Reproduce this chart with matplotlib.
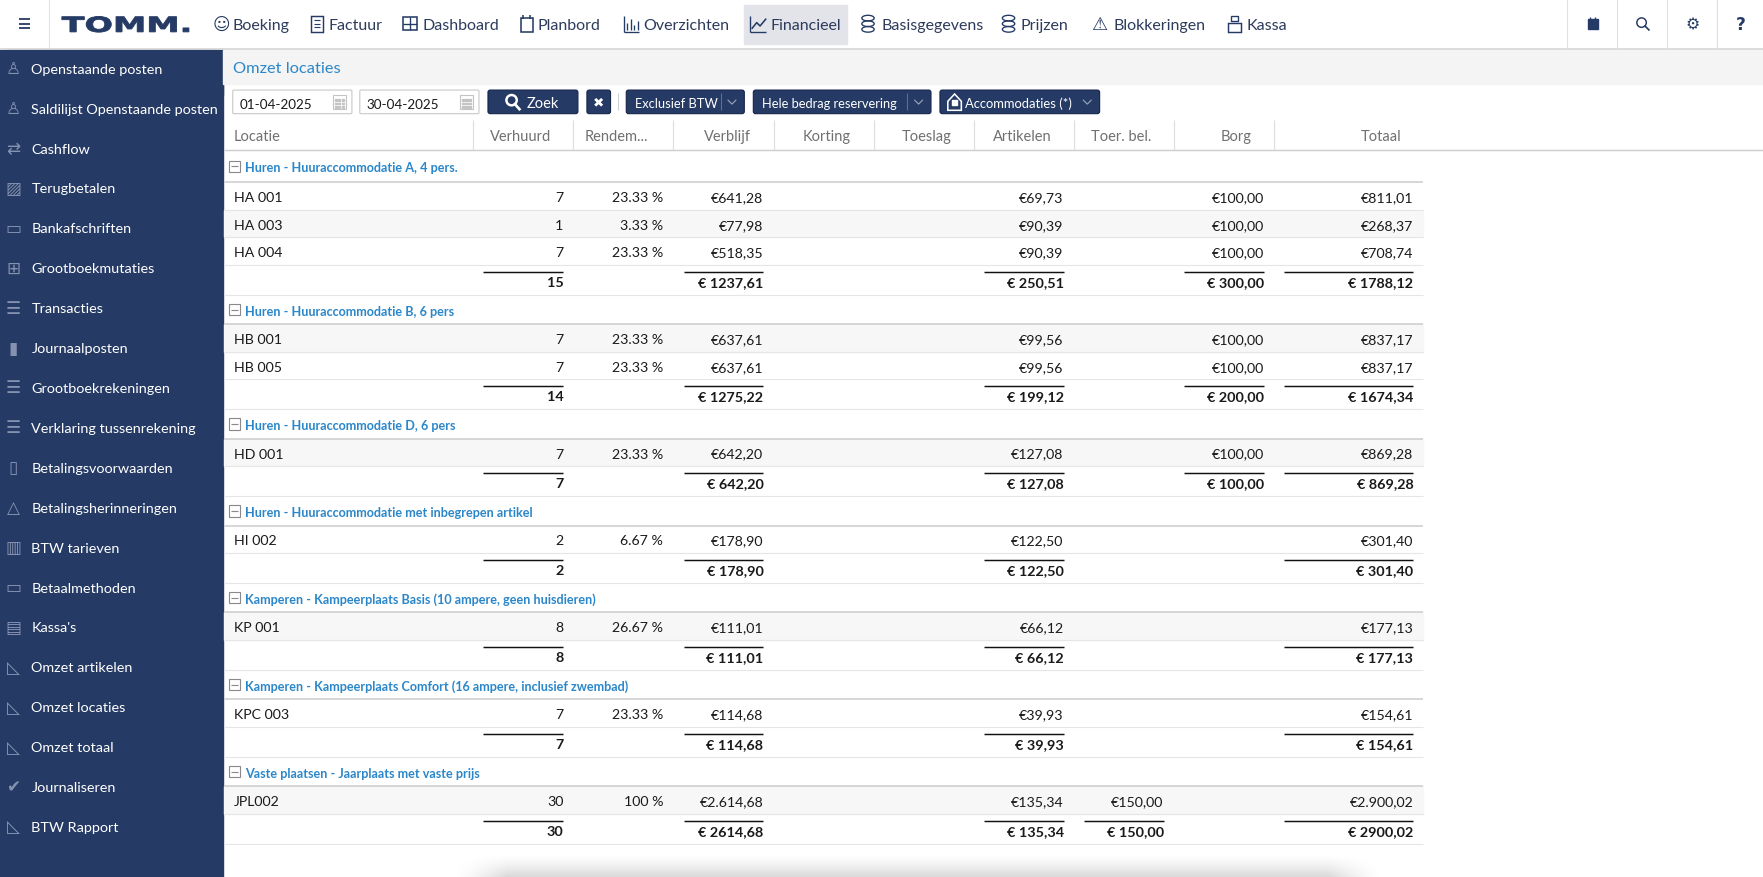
import matplotlib
matplotlib.use("Agg")
import numpy as np
import matplotlib.pyplot as plt
from matplotlib.patches import Rectangle, FancyBboxPatch, Circle, Ellipse, Polygon, PathPatch
from matplotlib.textpath import TextPath
from matplotlib.font_manager import FontProperties
from matplotlib.transforms import Affine2D
import matplotlib.font_manager as fm

# ---------------- data ----------------
page_title = "Omzet locaties"
logo_text = "TOMM."
date_from = "01-04-2025"
date_to = "30-04-2025"

columns = ["Locatie", "Verhuurd", "Rendem...", "Verblijf", "Korting", "Toeslag",
           "Artikelen", "Toer. bel.", "Borg", "Totaal"]

group_names = [
    "Huren - Huuraccommodatie A, 4 pers.",
    "Huren - Huuraccommodatie B, 6 pers",
    "Huren - Huuraccommodatie D, 6 pers",
    "Huren - Huuraccommodatie met inbegrepen artikel",
    "Kamperen - Kampeerplaats Basis (10 ampere, geen huisdieren)",
    "Kamperen - Kampeerplaats Comfort (16 ampere, inclusief zwembad)",
    "Vaste plaatsen - Jaarplaats met vaste prijs",
]
locations = ["HA 001", "HA 003", "HA 004", "HB 001", "HB 005", "HD 001",
             "HI 002", "KP 001", "KPC 003", "JPL002"]
location_group = [0, 0, 0, 1, 1, 2, 3, 4, 5, 6]
verhuurd = [7, 1, 7, 7, 7, 7, 2, 8, 7, 30]
rendement = [23.33, 3.33, 23.33, 23.33, 23.33, 23.33, 6.67, 26.67, 23.33, 100]
verblijf = [641.28, 77.98, 518.35, 637.61, 637.61, 642.20, 178.90, 111.01, 114.68, 2614.68]
korting = [None] * 10
toeslag = [None] * 10
artikelen = [69.73, 90.39, 90.39, 99.56, 99.56, 127.08, 122.50, 66.12, 39.93, 135.34]
toer_bel = [None, None, None, None, None, None, None, None, None, 150.00]
borg = [100.00, 100.00, 100.00, 100.00, 100.00, 100.00, None, None, None, None]
totaal = [811.01, 268.37, 708.74, 837.17, 837.17, 869.28, 301.40, 177.13, 154.61, 2900.02]

nav_items = ["Boeking", "Factuur", "Dashboard", "Planbord", "Overzichten",
             "Financieel", "Basisgegevens", "Prijzen", "Blokkeringen", "Kassa"]
filter_buttons = ["Exclusief BTW", "Hele bedrag reservering", "Accommodaties (*)"]
sidebar_items = ["Openstaande posten", "Saldilijst Openstaande posten", "Cashflow",
                 "Terugbetalen", "Bankafschriften", "Grootboekmutaties", "Transacties",
                 "Journaalposten", "Grootboekrekeningen", "Verklaring tussenrekening",
                 "Betalingsvoorwaarden", "Betalingsherinneringen", "BTW tarieven",
                 "Betaalmethoden", "Kassa's", "Omzet artikelen", "Omzet locaties",
                 "Omzet totaal", "Journaliseren", "BTW Rapport"]

# ---------------- style / layout ----------------
W, H = 1568, 781
S = 1763 / W
names = {f.name for f in fm.fontManager.ttflist}
FONT = "Lato" if "Lato" in names else "DejaVu Sans"
NAVY = "#253a64"
BLUE = "#2b87c9"
DY = 1.0
def pt(px):
    return px * S * 0.72
def lw(px):
    return px * S * 0.72

fig = plt.figure(figsize=(17.63, 8.78), dpi=100)
ax = fig.add_axes([0, 0, 1, 1])
ax.set_xlim(0, W)
ax.set_ylim(H, 0)
ax.axis("off")
fig.patch.set_facecolor("white")

def T(x, y, s, size=13, color="#1a1a1a", ha="left", weight="normal", family=None, dy=DY, **kw):
    ax.text(x, y + dy, s, fontsize=pt(size), color=color, ha=ha, va="center",
            fontweight=weight, family=family or [FONT, "DejaVu Sans"], **kw)

def hline(x0, x1, y, color, w=1.0, z=3):
    ax.plot([x0, x1], [y, y], color=color, lw=lw(w), solid_capstyle="butt", zorder=z)

def vline(x, y0, y1, color, w=1.0, z=3):
    ax.plot([x, x], [y0, y1], color=color, lw=lw(w), solid_capstyle="butt", zorder=z)

# ---------------- top navigation ----------------
hline(0, W, 44.5, "#d6d6d6", 1.5)
vline(44, 0, 44, "#e4e4e4")
for k in range(3):
    hline(17, 27, 18 + 4 * k, NAVY, 1.6)
# logo: wide heavy lettering fitted into its box
tp = TextPath((0, 0), logo_text, size=10, prop=FontProperties(family="DejaVu Sans", weight="bold"))
bb = tp.get_extents()
lx0, lx1, ly0, ly1 = 55, 168, 15.5, 29.5
tr = (Affine2D().translate(-bb.x0, -bb.y0)
      .scale((lx1 - lx0) / bb.width, -(ly1 - ly0) / bb.height)
      .translate(lx0, ly1))
ax.add_patch(PathPatch(tr.transform_path(tp), fc=NAVY, ec=NAVY, lw=lw(0.8), zorder=4))

nav_text_x = [207, 292, 376, 478, 572, 685, 784, 908, 990, 1109]
ax.add_patch(Rectangle((662, 5), 91, 35, color="#e2e4e9", zorder=1))
for name, x in zip(nav_items, nav_text_x):
    T(x, 22, name, size=14.3, color="#2d3b5c")
# nav icons
T(197, 22, "\u263a", size=15, color=NAVY, ha="center", family="DejaVu Sans", dy=0)
ax.add_patch(Rectangle((277, 15), 10, 14, fill=False, ec=NAVY, lw=lw(1.3), zorder=4))
for yy in (19, 22, 25):
    hline(279, 285, yy, NAVY, 1.0, 4)
ax.add_patch(Rectangle((358, 16), 13, 12, fill=False, ec=NAVY, lw=lw(1.4), zorder=4))
vline(364.5, 16, 28, NAVY, 1.2, 4); hline(358, 371, 22, NAVY, 1.2, 4)
ax.add_patch(Rectangle((463, 17), 11, 12, fill=False, ec=NAVY, lw=lw(1.4), zorder=4))
vline(465.5, 14, 18, NAVY, 1.4, 4); vline(471.5, 14, 18, NAVY, 1.4, 4)
vline(555, 15, 29, NAVY, 1.2, 4); hline(555, 568, 29, NAVY, 1.2, 4)
for xx, hh in zip((558, 561, 564, 567), (6, 10, 4, 8)):
    vline(xx, 27.5 - hh, 27.5, NAVY, 1.2, 4)
vline(667, 15, 29, NAVY, 1.2, 4); hline(667, 681, 29, NAVY, 1.2, 4)
ax.plot([669, 673, 676, 681], [26, 21, 24, 18], color=NAVY, lw=lw(1.4), zorder=4)
for xc in (772, 897):
    for yy in (17, 22, 27):
        ax.add_patch(Ellipse((xc, yy), 11, 5, fill=False, ec=NAVY, lw=lw(1.2), zorder=4))
T(978, 22, "\u26a0", size=16, color=NAVY, ha="center", family="DejaVu Sans", dy=0)
ax.add_patch(Rectangle((1092, 21), 12, 8, fill=False, ec=NAVY, lw=lw(1.3), zorder=4))
ax.add_patch(Rectangle((1095, 15), 6, 5, fill=False, ec=NAVY, lw=lw(1.2), zorder=4))
for xx in (1394, 1438, 1483, 1527):
    vline(xx, 0, 44, "#e0e0e0")
ax.add_patch(Rectangle((1412, 18), 9, 9, color=NAVY, zorder=4))
vline(1414, 16, 19, NAVY, 1.2, 4); vline(1419, 16, 19, NAVY, 1.2, 4)
ax.add_patch(Circle((1460, 21), 4.2, fill=False, ec=NAVY, lw=lw(1.3), zorder=4))
ax.plot([1463, 1466.5], [24, 27.5], color=NAVY, lw=lw(1.5), zorder=4)
T(1505, 22, "\u2699", size=14, color=NAVY, ha="center", family="DejaVu Sans", dy=0)
T(1548, 22, "?", size=15, color=NAVY, ha="center", weight="bold", family="DejaVu Sans", dy=0)

# ---------------- sidebar ----------------
ax.add_patch(FancyBboxPatch((0, 45), 198, H - 45 + 20, boxstyle="round,pad=0,rounding_size=8",
                            fc=NAVY, ec="none", zorder=1))
ax.add_patch(Rectangle((0, 45), 198, 40, color=NAVY, zorder=1))
ax.add_patch(Rectangle((190, 45), 8, H - 45, color=NAVY, zorder=1))
side_icons = ["\u2659", "\u2659", "\u21c4", "\u25a8", "\u25ad", "\u229e", "\u2630",
              "\u25ae", "\u2630", "\u2630", "\u25af", "\u25b3", "\u25a5", "\u25ad",
              "\u25a4", "\u25fa", "\u25fa", "\u25fa", "\u2714", "\u25fa"]
for i, (name, ic) in enumerate(zip(sidebar_items, side_icons)):
    y = 61 + 35.5 * i
    T(28, y, name, size=12.8, color="white")
    T(12, y, ic, size=15, color="#8592b0", ha="center", family="DejaVu Sans", dy=0.5)

# ---------------- page header & filters ----------------
ax.add_patch(Rectangle((198, 45), W - 198, 31, color="#f4f4f4", zorder=1))
T(207, 60, page_title, size=14.6, color=BLUE)

def box(x, y, w, h, fc, ec, r=2):
    ax.add_patch(FancyBboxPatch((x, y), w, h, boxstyle=f"round,pad=0,rounding_size={r}",
                                fc=fc, ec=ec, lw=lw(1), zorder=2))

for x0, txt in ((207, date_from), (320, date_to)):
    box(x0, 81, 106, 21, "white", "#c9c9c9", 1)
    T(x0 + 6, 92, txt, size=12, color="#1a1a1a")
    ax.add_patch(Rectangle((x0 + 89, 85), 12, 13, fill=False, ec="#c4c4c4", lw=lw(1), zorder=3))
    for gx in (x0 + 92, x0 + 95, x0 + 98):
        for gy in (90, 93, 96):
            ax.add_patch(Rectangle((gx - 1, gy - 0.8), 1.8, 1.6, color="#c4c4c4", zorder=3))

box(434, 81, 80, 21, NAVY, "#16254a")
ax.add_patch(Circle((455, 90), 4.6, fill=False, ec="white", lw=lw(2.2), zorder=4))
ax.plot([458, 462], [93.5, 98], color="white", lw=lw(2.4), zorder=4)
T(468, 91.5, "Zoek", size=13, color="white")
box(522, 81, 21, 21, NAVY, "#16254a")
T(532.5, 91.5, "\u2716", size=12, color="white", ha="center", family="DejaVu Sans", dy=0)
vline(549.5, 84, 99, "#d0d0d0")

btn_geom = [(557, 105), (670, 158), (836, 142)]
for (x0, w), txt in zip(btn_geom, filter_buttons):
    box(x0, 81, w, 21, NAVY, "#16254a")
    if txt.startswith("Accommodaties"):
        ax.add_patch(Polygon([[843, 91], [849, 84.5], [855, 91], [855, 99], [843, 99]],
                             closed=True, fill=False, ec="white", lw=lw(1.4), zorder=4))
        ax.add_patch(Rectangle((847, 90), 4, 4, color="white", zorder=4))
        T(858, 91.5, txt, size=11.6, color="white")
    else:
        T(x0 + 8, 91.5, txt, size=11.5, color="white")
        vline(x0 + w - 21, 84, 99, "#5d6f93")
    cx = x0 + w - 11
    ax.plot([cx - 3.5, cx, cx + 3.5], [90, 93.5, 90], color="#9aa6bf", lw=lw(1), zorder=4)

# ---------------- table ----------------
col_edges = [199, 421, 510, 599, 688, 777, 866, 955, 1044, 1133, 1266]
TABLE_R = 1266
HEAD_TOP, HEAD_BOT = 108, 134.5
for x in col_edges[1:-1]:
    vline(x, HEAD_TOP, HEAD_BOT, "#dedede")
hline(199, W, HEAD_BOT, "#cfcfcf", 1.3)
for i, name in enumerate(columns):
    if i == 0:
        T(208, 121, name, size=13, color="#707070")
    elif name.endswith("..."):
        T(col_edges[i] + 10, 121, name, size=13, color="#707070")
    else:
        T(col_edges[i + 1] - 20, 121, name, size=13, color="#707070", ha="right")

value_cols = {1: verhuurd, 2: rendement, 3: verblijf, 4: korting, 5: toeslag,
              6: artikelen, 7: toer_bel, 8: borg, 9: totaal}

def eur(v):
    s = f"{v:,.2f}".replace(",", "X").replace(".", ",").replace("X", ".")
    return "\u20ac" + s

def eur_total(v):
    return "\u20ac " + f"{v:.2f}".replace(".", ",")

def fmt(ci, v):
    if ci == 1:
        return str(v)
    if ci == 2:
        return "100 %" if v == 100 else f"{v:.2f} %"
    return eur(v)

GH, RH, TH = 26.0, 24.5, 26.8
y = HEAD_BOT
row_idx = 0
for g, gname in enumerate(group_names):
    gh = 28.5 if g == 0 else GH
    yc = y + gh / 2
    ax.add_patch(Rectangle((203.5, yc - 5), 10, 10, fill=False, ec="#8a8a8a", lw=lw(1), zorder=3))
    hline(205.5, 211.5, yc, "#8a8a8a", 1.0)
    T(218, yc, gname, size=11.2, color=BLUE, weight="bold")
    y += gh
    hline(199, TABLE_R, y, "#cdcdcd", 1.4)
    members = [i for i, lg in enumerate(location_group) if lg == g]
    for i in members:
        if row_idx % 2 == 1:
            ax.add_patch(Rectangle((199, y), TABLE_R - 199, RH, color="#f7f7f7", zorder=1))
        rc = y + RH / 2
        T(208, rc, locations[i], size=12.6)
        for ci, arr in value_cols.items():
            if arr[i] is not None:
                T(col_edges[ci + 1] - 9, rc, fmt(ci, arr[i]), size=12.6, ha="right")
        y += RH
        hline(199, TABLE_R, y, "#e6e6e6", 1.0)
        row_idx += 1
    # group totals
    tc = y + 14
    for ci, arr in value_cols.items():
        if ci == 2:
            continue
        vals = [arr[i] for i in members if arr[i] is not None]
        if not vals:
            continue
        tot = sum(vals)
        s = str(int(tot)) if ci == 1 else eur_total(round(tot, 2))
        hline(col_edges[ci] + 9, col_edges[ci + 1] - 9, y + 6, "#111111", 1.3)
        T(col_edges[ci + 1] - 9, tc, s, size=12.8, ha="right", weight="bold")
    y += TH
    hline(199, TABLE_R, y, "#e6e6e6", 1.0)

# soft shadow at the bottom of the page (transparent at top, darker toward the bottom edge)
nx, ny = 400, 40
xs = np.linspace(-1, 1, nx)
ys = np.linspace(0, 1, ny)
fx = np.clip((1 - np.abs(xs)) / 0.12, 0, 1) ** 1.5
fy = ys ** 1.4
alpha = 0.15 * np.outer(fy, fx)
img = np.zeros((ny, nx, 4))
img[..., 3] = alpha
ax.imshow(img, extent=(400, 1232, 781, 760), origin="upper", aspect="auto",
          interpolation="bilinear", zorder=0.5)
ax.set_xlim(0, W)
ax.set_ylim(H, 0)

fig.savefig("out.png", dpi=100, facecolor="white")
